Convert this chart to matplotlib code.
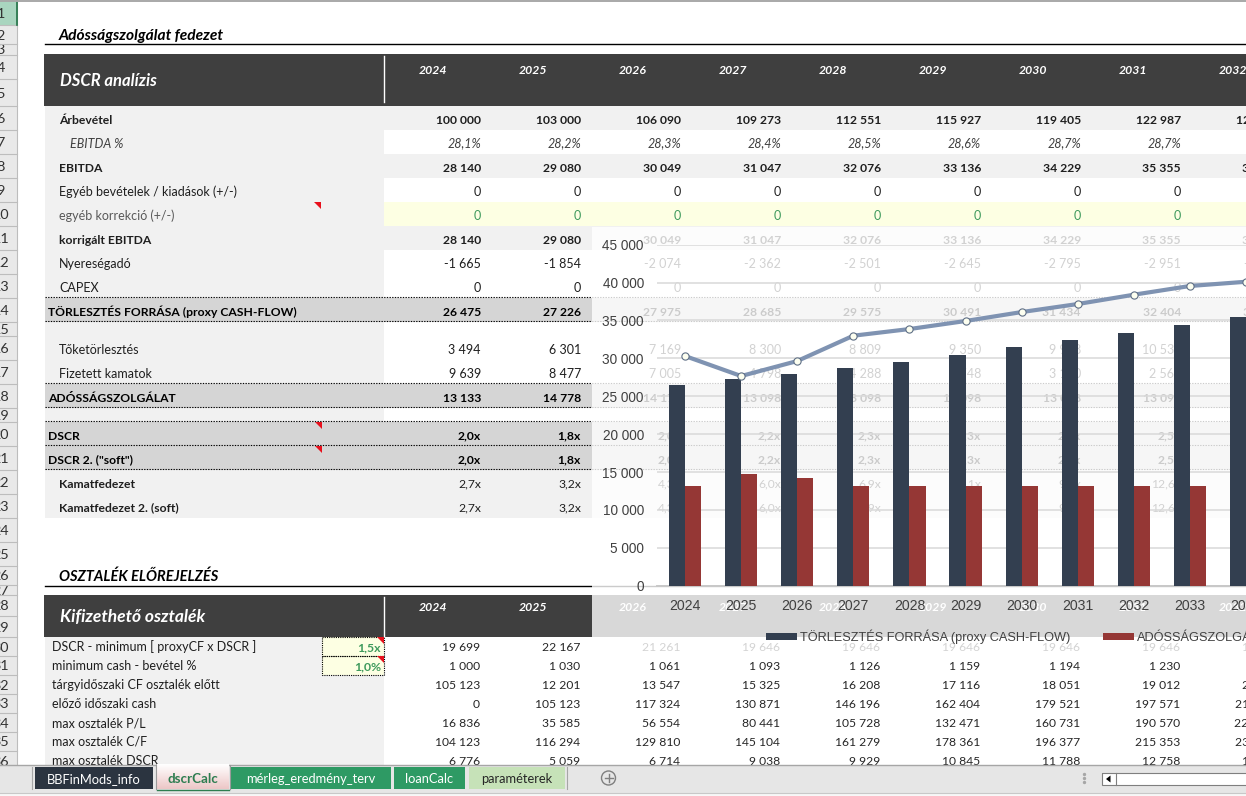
import matplotlib
matplotlib.use("Agg")
import matplotlib.pyplot as plt
from matplotlib.patches import Rectangle, Polygon, Circle, Patch
from matplotlib.ticker import FuncFormatter
import numpy as np

# ---------- chart data ----------
chart_years = ['2024','2025','2026','2027','2028','2029','2030','2031','2032','2033','2034']
torlesztes_forrasa = [26475,27226,27975,28685,29575,30491,31434,32404,33340,34380,35430]
adossagszolgalat   = [13133,14778,14174,13098,13098,13098,13098,13098,13098,13098,13098]
trend_line         = [30300,27660,29640,32980,33860,34920,36100,37160,38390,39540,40100]
y_ticks = [0,5000,10000,15000,20000,25000,30000,35000,40000,45000]

# ---------- table data ----------
table_years = ['2024','2025','2026','2027','2028','2029','2030','2031','2032']
arbevetel = [100000,103000,106090,109273,112551,115927,119405,122987,126677]
ebitda_pct = ['28,1%','28,2%','28,3%','28,4%','28,5%','28,6%','28,7%','28,7%','28,8%']
ebitda = [28140,29080,30049,31047,32076,33136,34229,35355,36483]
egyeb = [0]*9
korrekcio = [0]*9
korr_ebitda = [28140,29080,30049,31047,32076,33136,34229,35355,36483]
ado = [-1665,-1854,-2074,-2362,-2501,-2645,-2795,-2951,-3113]
capex = [0]*9
forras = [26475,27226,27975,28685,29575,30491,31434,32404,33370]
toke = [3494,6301,7169,8300,8809,9350,9928,10535,11170]
kamat = [9639,8477,7005,4798,4288,3748,3170,2563,1928]
adossag = [13133,14778,14174,13098,13098,13098,13098,13098,13098]
dscr = ['2,0x','1,8x','2,0x','2,2x','2,3x','2,3x','2,4x','2,5x','2,5x']
dscr2 = ['2,0x','1,8x','2,0x','2,2x','2,3x','2,3x','2,4x','2,5x','2,5x']
kamatfed = ['2,7x','3,2x','4,3x','6,0x','6,9x','8,1x','9,9x','12,6x','17,5x']
kamatfed2 = ['2,7x','3,2x','4,3x','6,0x','6,9x','8,1x','9,9x','12,6x','17,5x']

dscr_min = [19699,22167,21261,19646,19646,19646,19646,19646,19646]
min_cash = [1000,1030,1061,1093,1126,1159,1194,1230,1267]
targy_cf = [105123,12201,13547,15325,16208,17116,18051,19012,20000]
elozo_cash = [0,105123,117324,130871,146196,162404,179521,197571,216583]
max_pl = [16836,35585,56554,80441,105728,132471,160731,190570,222000]
max_cf = [104123,116294,129810,145104,161279,178361,196377,215353,235316]
max_dscr = [6776,5059,6714,9038,9929,10845,11788,12758,13754]

tabs = ['BBFinMods_info','dscrCalc','mérleg_eredmény_terv','loanCalc','paraméterek']

# ---------- setup ----------
W, H = 1246, 796
FONT = ['Lato', 'DejaVu Sans']
plt.rcParams['font.family'] = FONT
fig = plt.figure(figsize=(W/100, H/100), dpi=100, facecolor='white')
bg = fig.add_axes([0, 0, 1, 1], zorder=1)
bg.set_xlim(0, W); bg.set_ylim(H, 0); bg.axis('off')

FS = 9.0
FSB = 8.7
TXT = '#1f1f1f'
GREY = '#f1f1f1'
MID = '#d5d5d5'
DARK = '#3f3f3f'

def num(v):
    if isinstance(v, str):
        return v
    s = f"{abs(v):,}".replace(',', ' ')
    return ('-' if v < 0 else '') + s

def rect(x0, y0, x1, y1, c, z=1, **kw):
    bg.add_patch(Rectangle((x0, y0), x1-x0, y1-y0, fc=c, ec='none', zorder=z, **kw))

def txt(x, y, s, z=3, **kw):
    kw.setdefault('fontsize', FS); kw.setdefault('color', TXT)
    kw.setdefault('va', 'baseline')
    bg.text(x, y, s, zorder=z, **kw)

def tri(x1, y0, z=3):
    bg.add_patch(Polygon([(x1-7, y0), (x1, y0), (x1, y0+7)], fc='#e8101c', ec='none', zorder=z))

# ---------- row headers ----------
rect(0, 0, 17, 765, '#e9e9e9')
row_bounds = [0,25,44,55,79,106,130,154,178,202,226,250,274,298,322,336,360,384,408,422,446,470,494,518,
              542,566,585,595,616,637,656,675,694,713,732,751,770]
for i in range(len(row_bounds)-1):
    y0, y1 = row_bounds[i], row_bounds[i+1]
    if i == 0:
        rect(0, y0, 17, y1, '#a9d5bf', z=1.2)
    bg.plot([0, 17], [y1, y1], color='#bdbdbd', lw=0.8, zorder=1.5)
    bg.text(0.8, (y0+y1)/2+5, str(i+1), fontsize=10.4, color='#333333', ha='center', va='baseline',
            zorder=1.4, clip_on=True,
            clip_path=Rectangle((0, y0), 17, y1-y0, transform=bg.transData))
bg.plot([17, 17], [0, 765], color='#bdbdbd', lw=0.8, zorder=1.5)
bg.plot([16.5, 16.5], [0, 25], color='#217346', lw=1.2, zorder=1.6)
bg.plot([0, W], [0.5, 0.5], color='#a8a8a8', lw=1.4, zorder=1.6)

# ---------- upper table ----------
txt(59, 40, 'Adósságszolgálat fedezet', fontsize=11.2, fontweight='bold', fontstyle='italic', color='black')
bg.plot([45, W], [44.3, 44.3], color='black', lw=1, zorder=2)
rect(44, 54, W, 106, DARK)
bg.plot([383.5, 383.5], [56, 102], color='white', lw=1, zorder=2)
txt(60, 86, 'DSCR analízis', fontsize=12, fontweight='bold', fontstyle='italic', color='white')
col_right = [481 + 100*i for i in range(9)]
for i, y in enumerate(table_years):
    txt(433 + 100*i, 74, y, ha='center', fontweight='bold', fontstyle='italic', color='white', fontsize=8.8)

upper_rows = [
    # label, values, top, bottom, label x, row style, weight, style, text colour
    ('Árbevétel', arbevetel, 106, 130, 59, 'grey', 'bold', 'normal', TXT),
    ('EBITDA %', ebitda_pct, 130, 154, 70, 'white', 'normal', 'italic', '#404040'),
    ('EBITDA', ebitda, 154, 178, 59, 'grey', 'bold', 'normal', TXT),
    ('Egyéb bevételek / kiadások (+/-)', egyeb, 178, 202, 59, 'white', 'normal', 'normal', TXT),
    ('egyéb korrekció (+/-)', korrekcio, 202, 226, 59, 'yellow', 'normal', 'normal', '#595959'),
    ('korrigált EBITDA', korr_ebitda, 226, 250, 59, 'grey', 'bold', 'normal', TXT),
    ('Nyereségadó', ado, 250, 274, 59, 'white', 'normal', 'normal', TXT),
    ('CAPEX', capex, 274, 298, 59, 'white', 'normal', 'normal', TXT),
    ('TÖRLESZTÉS FORRÁSA (proxy CASH-FLOW)', forras, 298, 322, 48, 'mid', 'bold', 'normal', 'black'),
    ('', None, 322, 336, 59, 'white', 'normal', 'normal', TXT),
    ('Tőketörlesztés', toke, 336, 360, 59, 'white', 'normal', 'normal', TXT),
    ('Fizetett kamatok', kamat, 360, 384, 59, 'white', 'normal', 'normal', TXT),
    ('ADÓSSÁGSZOLGÁLAT', adossag, 384, 408, 48, 'mid', 'bold', 'normal', 'black'),
    ('', None, 408, 422, 59, 'white', 'normal', 'normal', TXT),
    ('DSCR', dscr, 422, 446, 48, 'mid', 'bold', 'normal', 'black'),
    ('DSCR 2. ("soft")', dscr2, 446, 470, 48, 'mid', 'bold', 'normal', 'black'),
    ('Kamatfedezet', kamatfed, 470, 494, 59, 'grey', 'bold', 'normal', TXT),
    ('Kamatfedezet 2. (soft)', kamatfed2, 494, 518, 59, 'grey', 'bold', 'normal', TXT),
]
regular_values = {'Kamatfedezet', 'Kamatfedezet 2. (soft)'}
for label, vals, y0, y1, lx, style, wt, st, col in upper_rows:
    if style == 'grey':
        rect(45, y0, W, y1, GREY)
    elif style == 'mid':
        rect(45, y0, W, y1, MID)
    else:
        rect(45, y0, 384, y1, GREY)
        if style == 'yellow':
            rect(384, y0, W, y1, '#fdffe3')
    base = (y0+y1)/2 + 5.5
    fs = FSB if wt == 'bold' else FS
    if label:
        txt(lx, base, label, fontweight=wt, fontstyle=st, color=col, fontsize=fs)
    if vals is not None:
        vcol = '#3e9a5c' if style == 'yellow' else col
        vw = 'normal' if label in regular_values else wt
        for r, v in zip(col_right, vals):
            txt(r, base, num(v), ha='right', fontweight=vw, fontstyle=st, color=vcol, fontsize=fs)

for y in [298, 322, 384, 408, 422, 446, 470]:
    bg.plot([45, W], [y-0.7, y-0.7], color='black', lw=0.8, ls=(0, (1.2, 1.2)), zorder=2)
tri(321, 202); tri(322, 422); tri(322, 446)

# ---------- lower table ----------
txt(59, 581, 'OSZTALÉK ELŐREJELZÉS', fontsize=10.5, fontweight='bold', fontstyle='italic', color='black')
bg.plot([45, W], [585.5, 585.5], color='black', lw=1, zorder=2)
rect(44, 595, W, 637, DARK)
bg.plot([383.5, 383.5], [597, 637], color='white', lw=1, zorder=2)
txt(60, 622, 'Kifizethető osztalék', fontsize=12.5, fontweight='bold', fontstyle='italic', color='white')
for i, y in enumerate(table_years):
    txt(433 + 100*i, 611, y, ha='center', fontweight='bold', fontstyle='italic', color='white', fontsize=8.8)

lower_rows = [
    ('DSCR - minimum [ proxyCF x DSCR ]', dscr_min),
    ('minimum cash - bevétel %', min_cash),
    ('tárgyidőszaki CF osztalék előtt', targy_cf),
    ('előző időszaki cash', elozo_cash),
    ('max osztalék P/L', max_pl),
    ('max osztalék C/F', max_cf),
    ('max osztalék DSCR', max_dscr),
]
rect(45, 637, 384, 770, GREY)
for j, (label, vals) in enumerate(lower_rows):
    y0 = 637 + 19*j
    base = y0 + 14
    txt(52, base, label, fontsize=9.0, color='#1f1f1f')
    for r, v in zip(col_right, vals):
        txt(r-1, base, num(v), ha='right', fontsize=8.7, color='#262626')
for y0, s in [(637, '1,5x'), (656, '1,0%')]:
    rect(322, y0, 384, y0+19, '#fdffe3', z=1.5)
    bg.add_patch(Rectangle((322, y0), 61.5, 19, fc='none', ec='black', lw=0.8, ls=(0, (1, 1)), zorder=2))
    txt(381, y0+14, s, ha='right', fontweight='bold', fontsize=8.8, color='#3e9a5c')
    tri(384, y0)

# ---------- chart overlay (translucent chart area) ----------
rect(592, 227, W, 655, 'white', z=5, alpha=0.8)

# ---------- tab bar ----------
rect(0, 764.5, W, 793, '#e6e6e6', z=6)
rect(0, 793, W, 796, '#f7f7f7', z=6)
bg.plot([0, W], [764.5, 764.5], color='#a6a6a6', lw=1, zorder=6.1)
bg.plot([0, W], [793, 793], color='#c8c8c8', lw=0.8, zorder=6.1)
tab_x = [(35, 153), (157, 229), (231, 391), (394, 465), (469, 565)]
tab_fc = ['#2b3440', None, '#2e9a64', '#2e9a64', '#c6e2b8']
tab_tc = ['white', '#2e7d50', 'white', 'white', '#262626']
for (x0, x1), fc, tc, name in zip(tab_x, tab_fc, tab_tc, tabs):
    if fc is None:
        grad = np.linspace(0, 1, 32)[:, None]
        top = np.array([1, 1, 1]); botc = np.array([0.93, 0.78, 0.78])
        img = (top[None, None, :]*(1-grad[..., None]) + botc[None, None, :]*grad[..., None])
        bg.imshow(img, extent=(x0, x1, 789, 764), aspect='auto', zorder=6.5)
        bg.plot([x0, x1], [789.5, 789.5], color='#2e7d50', lw=1, zorder=6.6)
        bg.plot([x0-1, x0-1], [765, 789], color='#9a9a9a', lw=0.8, zorder=6.6)
        bg.plot([x1+1, x1+1], [765, 789], color='#9a9a9a', lw=0.8, zorder=6.6)
    else:
        rect(x0, 767, x1, 789, fc, z=6.5)
    txt((x0+x1)/2, 783, name, z=7, ha='center', color=tc, fontsize=9.6 if fc is None else 9.3,
        fontweight='bold' if fc is None else 'normal')
bg.set_xlim(0, W); bg.set_ylim(H, 0)
for x in (32, 567):
    bg.plot([x, x], [767, 789], color='#a6a6a6', lw=0.8, zorder=6.5)
bg.add_patch(Circle((608.5, 778), 7, fc='none', ec='#7f7f7f', lw=1, zorder=7))
bg.plot([604.5, 612.5], [778, 778], color='#7f7f7f', lw=1, zorder=7)
bg.plot([608.5, 608.5], [774, 782], color='#7f7f7f', lw=1, zorder=7)
for yy in (774, 778, 782):
    bg.plot([1084], [yy], marker='o', ms=1.4, color='#a6a6a6', zorder=7)
rect(1102, 772.5, W, 785, 'white', z=6.5)
bg.add_patch(Rectangle((1102, 772.5), 160, 12.5, fc='none', ec='#7f7f7f', lw=0.8, zorder=7))
bg.plot([1116, 1116], [772.5, 785], color='#7f7f7f', lw=0.8, zorder=7)
bg.add_patch(Polygon([(1106, 779), (1110.5, 775.5), (1110.5, 782.5)], fc='black', ec='none', zorder=7))

# ---------- chart ----------
step = 56.1
px_left, px_bottom, px_top = 657.0, 585.7, 244.6
ax = fig.add_axes([px_left/W, (H-px_bottom)/H, step*len(chart_years)/W, (px_bottom-px_top)/H], zorder=10)
ax.patch.set_visible(False)
for s in ax.spines.values():
    s.set_visible(False)
x = np.arange(len(chart_years))
bw = 0.287
b1 = ax.bar(x-bw/2, torlesztes_forrasa, bw, color='#333f50', zorder=3, label='TÖRLESZTÉS FORRÁSA (proxy CASH-FLOW)')
b2 = ax.bar(x+bw/2, adossagszolgalat, bw, color='#953735', zorder=3, label='ADÓSSÁGSZOLGÁLAT')
ax.plot(x, trend_line, color='#7f93b2', lw=3, marker='o', ms=5.2, mfc='#fdfff0', mec='#5f6f86', mew=0.8,
        zorder=4, clip_on=False)
ax.set_xlim(-0.5, len(chart_years)-0.5)
ax.set_ylim(0, 45000)
ax.set_yticks(y_ticks)
ax.yaxis.set_major_formatter(FuncFormatter(lambda v, p: f"{int(v):,}".replace(',', ' ')))
ax.set_xticks(x, chart_years)
ax.yaxis.grid(True, color='#d9d9d9', lw=1.1, zorder=1)
ax.set_axisbelow(True)
ax.tick_params(axis='both', length=0, labelcolor='#404040', labelsize=10.2)
ax.tick_params(axis='y', pad=9.5, labelsize=9.8)
ax.tick_params(axis='x', pad=9.5)
CHART_FONT = ['Liberation Sans', 'DejaVu Sans']
for t in ax.get_xticklabels() + ax.get_yticklabels():
    t.set_fontfamily(CHART_FONT)
ax.spines['bottom'].set_visible(True)
ax.spines['bottom'].set_color('#c8c8c8')
ax.spines['bottom'].set_linewidth(1.4)
leg = ax.legend(handles=[b1, b2], ncols=2, frameon=False, loc='center left',
                bbox_to_anchor=(766/W, (H-636.7)/H), bbox_transform=fig.transFigure,
                handlelength=2.43, handleheight=0.55, handletextpad=0.2, columnspacing=2.6,
                borderpad=0, borderaxespad=0, labelcolor='#404040',
                prop={'family': CHART_FONT, 'size': 9.2})
leg.set_in_layout(False)

fig.savefig('out.png', dpi=100)
